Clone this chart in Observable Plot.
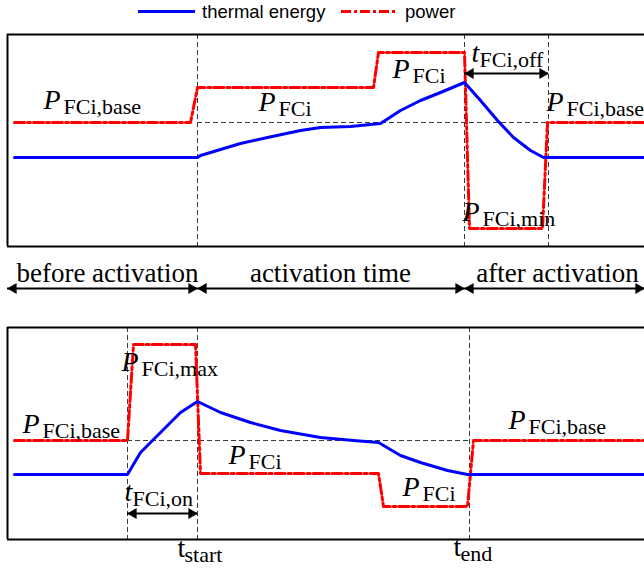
<!DOCTYPE html>
<html><head><meta charset="utf-8">
<script src="https://cdn.jsdelivr.net/npm/d3@7"></script>
<script src="https://cdn.jsdelivr.net/npm/@observablehq/plot@0.6"></script>
<style>
html,body{margin:0;padding:0;background:#fff;}
body{width:644px;height:572px;overflow:hidden;}
svg{display:block;}
</style></head><body>
<div id="legend"></div>
<div id="chart"></div>
<script>
// ---- Data (schematic time units t, level units v per panel) ----
const legendItems = [
  {label: "thermal energy", color: "#0000ff", dash: null},
  {label: "power", color: "#ff0000", dash: "10,3,3,3"}
];

// Top panel: power (red dash-dot) and thermal energy (blue)
const topPower = [[7,124],[183,124],[190,159],[366,159],[371,194],[457,194],[462,18],[535,18],[540,124],[637,124]];
const topThermal = [[7,89],[190,89],[193,91],[213,97],[233,103],[260,109],[293,116],[313,119],[343,120],[373,123],[393,136],[413,146],[433,154],[457,164],[473,146],[490,126],[506,109],[523,96],[536,89],[637,89]];
const topGuidesT = [190, 457, 541];
const topGuideH = [{v: 124, t1: 190, t2: 541}];
const topArrows = [{t1: 457, t2: 541, v: 173}];
const topLabels = [
  {t: 36, v: 138, main: "P", sub: "FCi,base"},
  {t: 251, v: 136, main: "P", sub: "FCi"},
  {t: 385, v: 169, main: "P", sub: "FCi"},
  {t: 464, v: 185, main: "t", sub: "FCi,off"},
  {t: 539, v: 136, main: "P", sub: "FCi,base"},
  {t: 455, v: 26, main: "P", sub: "FCi,min"}
];

// Phases between the panels (mid = where the phase name is centred)
const phases = [
  {t1: 0, t2: 190, mid: 100, label: "before activation"},
  {t1: 190, t2: 457, mid: 323, label: "activation time"},
  {t1: 457, t2: 637, mid: 550, label: "after activation"}
];

// Bottom panel
const botPower = [[7,99],[120,99],[126,195],[188,195],[193,66],[371,66],[376,33],[460,33],[466,99],[637,99]];
const botThermal = [[7,65],[120,65],[133,87],[153,107],[173,127],[190,138],[213,127],[243,117],[273,109],[313,102],[346,99],[371,97],[393,84],[413,77],[440,69],[460,65],[637,65]];
const botGuidesT = [120, 190, 462];
const botGuideH = [{v: 99, t1: 120, t2: 462}];
const botArrows = [{t1: 120, t2: 190, v: 26}];
const botLabels = [
  {t: 15, v: 107, main: "P", sub: "FCi,base"},
  {t: 114, v: 169, main: "P", sub: "FCi,max"},
  {t: 221, v: 76, main: "P", sub: "FCi"},
  {t: 395, v: 44, main: "P", sub: "FCi"},
  {t: 501, v: 111, main: "P", sub: "FCi,base"},
  {t: 117, v: 39, main: "t", sub: "FCi,on"}
];
const botTimeLabels = [
  {t: 170, v: -17, main: "t", sub: "start"},
  {t: 446, v: -16, main: "t", sub: "end"}
];

// ---- Styles ----
const W = 644;
const SERIF = "Liberation Serif, Times New Roman, serif";
const BLUE = "#0000ff", RED = "#ff0000";
const DASH_PD = "10,3,3,3";
const GUIDE = {stroke: "#3a3a3a", strokeWidth: 1, strokeDasharray: "5,3"};
const MAIN_SIZE = 28, SUB_SIZE = 22;
const SUB_DX = {P: 20, t: 8};

// ---- Legend ----
(function legend() {
  const svg = d3.select("#legend").append("svg").attr("width", W).attr("height", 24);
  const starts = [138, 341];
  legendItems.forEach((d, i) => {
    const x = starts[i];
    svg.append("line").attr("x1", x).attr("x2", x + 57).attr("y1", 11.5).attr("y2", 11.5)
      .attr("stroke", d.color).attr("stroke-width", 3).attr("stroke-dasharray", d.dash);
    svg.append("text").attr("x", x + 64).attr("y", 18).text(d.label)
      .attr("font-family", "Liberation Sans, Arial, sans-serif").attr("font-size", 18.5).attr("fill", "#000");
  });
})();

function arrowMarks(arrows) {
  return [
    Plot.ruleY(arrows, {y: "v", x1: "t1", x2: "t2", stroke: "#000", strokeWidth: 2}),
    Plot.dot(arrows, {x: "t2", y: "v", symbol: "triangle", r: 4, rotate: 90, fill: "#000", stroke: null, dx: -6}),
    Plot.dot(arrows, {x: "t1", y: "v", symbol: "triangle", r: 4, rotate: -90, fill: "#000", stroke: null, dx: 6})
  ];
}

function labelMarks(labels, italic) {
  const marks = [];
  for (const m of ["P", "t"]) {
    const ls = labels.filter(d => d.main === m);
    if (!ls.length) continue;
    marks.push(Plot.text(ls, {x: "t", y: "v", text: "main", fontFamily: SERIF, fontSize: MAIN_SIZE,
      fontStyle: italic ? "italic" : "normal", textAnchor: "start", lineAnchor: "bottom", fill: "#000"}));
    marks.push(Plot.text(ls, {x: "t", y: "v", text: "sub", fontFamily: SERIF, fontSize: SUB_SIZE,
      textAnchor: "start", lineAnchor: "bottom", dx: italic ? SUB_DX[m] : 7, dy: 5, fill: "#000"}));
  }
  return marks;
}

function panel({power, thermal, guidesT, guideH, arrows, labels, extraLabels, height, marginTop, marginBottom}) {
  return Plot.plot({
    width: W, height, marginLeft: 7, marginRight: 0, marginTop, marginBottom,
    x: {domain: [0, 637], axis: null},
    y: {domain: [0, 212], axis: null},
    style: {overflow: "visible", background: "white"},
    marks: [
      Plot.ruleX(guidesT, {x: d => d, ...GUIDE}),
      Plot.ruleY(guideH, {y: "v", x1: "t1", x2: "t2", ...GUIDE}),
      Plot.ruleY([0, 212], {stroke: "#000", strokeWidth: 2}),
      Plot.ruleX([0], {stroke: "#000", strokeWidth: 2}),
      Plot.line(power, {x: d => d[0], y: d => d[1], stroke: RED, strokeWidth: 3, strokeDasharray: DASH_PD}),
      Plot.line(thermal, {x: d => d[0], y: d => d[1], stroke: BLUE, strokeWidth: 3}),
      ...arrowMarks(arrows),
      ...labelMarks(labels, true),
      ...(extraLabels ? labelMarks(extraLabels, false) : [])
    ]
  });
}

const chart = document.getElementById("chart");
chart.append(panel({power: topPower, thermal: topThermal, guidesT: topGuidesT, guideH: topGuideH,
  arrows: topArrows, labels: topLabels, height: 236, marginTop: 10, marginBottom: 14}));

chart.append(Plot.plot({
  width: W, height: 45, marginLeft: 7, marginRight: 0, marginTop: 0, marginBottom: 0,
  x: {domain: [0, 637], axis: null},
  y: {domain: [0, 45], axis: null},
  style: {overflow: "visible", background: "white"},
  marks: [
    ...arrowMarks(phases.map(d => ({t1: d.t1, t2: d.t2, v: 17}))),
    Plot.text(phases, {x: "mid", y: () => 24, text: "label", fontFamily: SERIF,
      fontSize: 27, textAnchor: "middle", lineAnchor: "bottom", fill: "#000"})
  ]
}));

chart.append(panel({power: botPower, thermal: botThermal, guidesT: botGuidesT, guideH: botGuideH,
  arrows: botArrows, labels: botLabels, extraLabels: botTimeLabels, height: 267, marginTop: 22, marginBottom: 33}));
</script></body></html>
